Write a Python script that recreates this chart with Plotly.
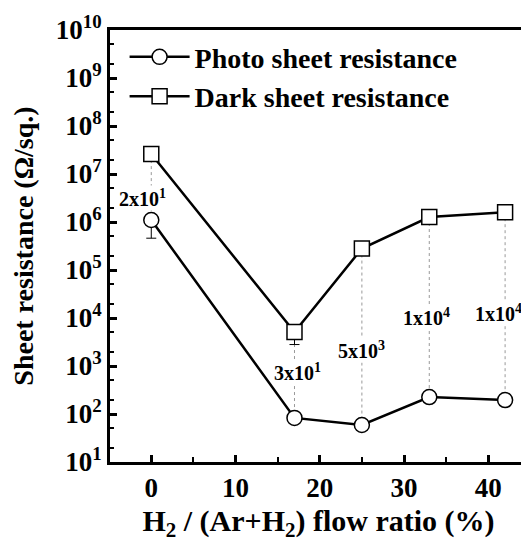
import math
import plotly.graph_objects as go

# Data
flow_ratio = [0, 17, 25, 33, 42]
photo_res = [1.1e6, 83, 59, 225, 195]
dark_res = [2.6e7, 5.1e3, 2.8e5, 1.27e6, 1.6e6]
photo_err_plus = [0, 10, 8, 30, 0]
photo_err_minus = [6.4e5, 10, 8, 30, 0]
dark_err_plus = [3e6, 0, 3e4, 1.5e5, 2e5]
dark_err_minus = [3e6, 2.3e3, 3e4, 1.5e5, 2e5]
ratio_labels = ["2x10<sup>1</sup>", "3x10<sup>1</sup>", "5x10<sup>3</sup>",
                "1x10<sup>4</sup>", "1x10<sup>4</sup>"]
# label vertical positions (values on the log axis)
label_y = [3.2e6, 7.5e2, 2.2e3, 1.05e4, 1.25e4]
label_dx = [-1.0, 0.3, 0.0, -0.3, -0.8]

y_tickvals = [10 ** k for k in range(1, 11)]
y_ticktext = [f"10<sup>{k}</sup>" for k in range(1, 11)]
x_tickvals = [0, 10, 20, 30, 40]

FONT = "Liberation Serif"

fig = go.Figure()

# dotted connectors between dark and photo values
for xv, d, p in zip(flow_ratio, dark_res, photo_res):
    fig.add_trace(go.Scatter(
        x=[xv, xv], y=[d, p], mode="lines",
        line=dict(color="#999999", width=1, dash="dot"),
        showlegend=False, hoverinfo="skip"))

fig.add_trace(go.Scatter(
    x=flow_ratio, y=photo_res, mode="lines+markers",
    name="Photo sheet resistance",
    line=dict(color="black", width=2.5),
    marker=dict(symbol="circle", size=15, color="white",
                line=dict(color="black", width=1.5)),
    error_y=dict(type="data", symmetric=False, array=photo_err_plus,
                 arrayminus=photo_err_minus, color="black",
                 thickness=1, width=5)))

fig.add_trace(go.Scatter(
    x=flow_ratio, y=dark_res, mode="lines+markers",
    name="Dark sheet resistance",
    line=dict(color="black", width=2.5),
    marker=dict(symbol="square", size=15, color="white",
                line=dict(color="black", width=1.5)),
    error_y=dict(type="data", symmetric=False, array=dark_err_plus,
                 arrayminus=dark_err_minus, color="black",
                 thickness=1, width=5)))

for xv, ly, txt, dx in zip(flow_ratio, label_y, ratio_labels, label_dx):
    fig.add_annotation(
        x=xv + dx, y=math.log10(ly), text=txt, showarrow=False,
        font=dict(family=FONT, size=20, color="black", weight="bold"),
        bgcolor="white", borderpad=0)

fig.update_layout(
    width=521, height=541,
    margin=dict(l=102, r=2, t=22, b=87, autoexpand=False),
    plot_bgcolor="white", paper_bgcolor="white",
    font=dict(family=FONT, color="black", size=25, weight="bold"),
    showlegend=True,
    legend=dict(x=0.035, y=0.995, xanchor="left", yanchor="top",
                bgcolor="rgba(0,0,0,0)",
                font=dict(family=FONT, size=28, color="black", weight="bold"),
                itemwidth=60, tracegroupgap=0),
    xaxis=dict(
        range=[-4.9, 44.6], tickvals=x_tickvals, automargin=False,
        ticks="inside", ticklen=7, tickwidth=2.5, tickcolor="black",
        minor=dict(dtick=5, ticks="inside", ticklen=5, tickwidth=2, tickcolor="black"),
        showline=True, linewidth=3, linecolor="black", mirror=True,
        showgrid=False, zeroline=False,
        tickfont=dict(family=FONT, size=27, weight="bold"),
        title=dict(text="H<sub>2</sub> / (Ar+H<sub>2</sub>) flow ratio (%)",
                   font=dict(family=FONT, size=30, weight="bold"), standoff=8)),
    yaxis=dict(
        type="log", range=[1, 10], tickvals=y_tickvals, ticktext=y_ticktext,
        automargin=False,
        ticks="inside", ticklen=7, tickwidth=2.5, tickcolor="black",
        minor=dict(ticks="inside", ticklen=4, tickwidth=1.5, tickcolor="black", showgrid=False),
        showline=True, linewidth=3, linecolor="black", mirror=True,
        showgrid=False, zeroline=False,
        tickfont=dict(family=FONT, size=27, weight="bold"),
        title=dict(text="Sheet resistance (Ω/sq.)",
                   font=dict(family=FONT, size=28, weight="bold"), standoff=16)),
)

fig.write_html("out.html")
